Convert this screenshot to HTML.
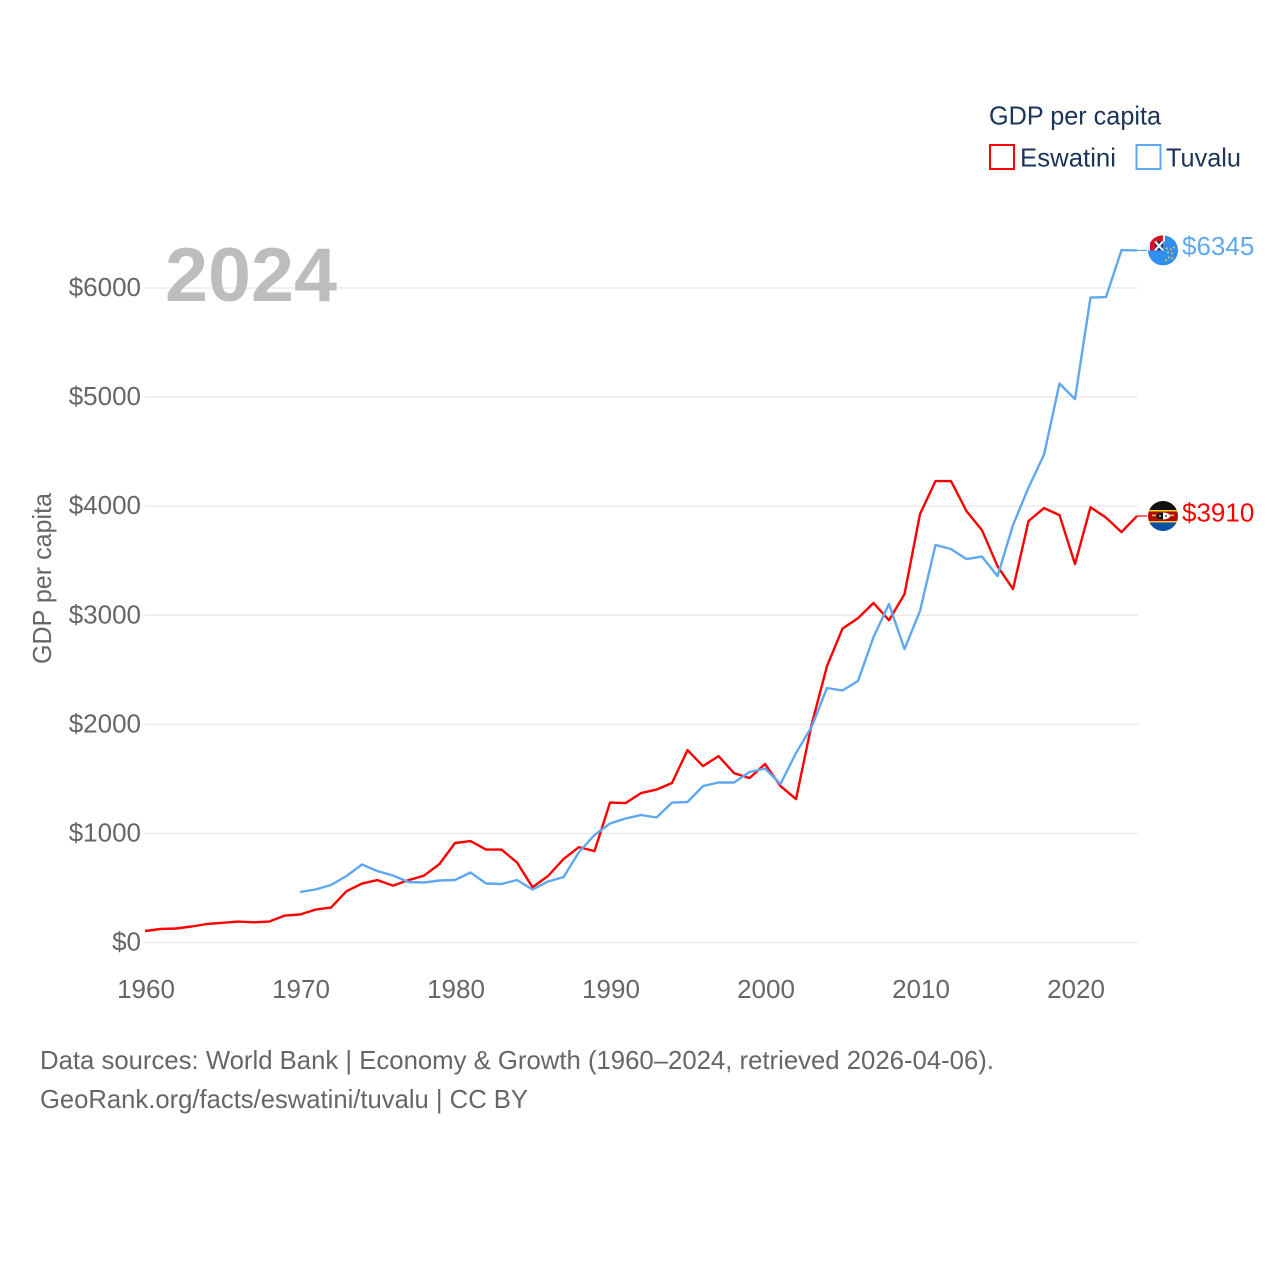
<!DOCTYPE html>
<html lang="en">
<head>
<meta charset="utf-8">
<title>GDP per capita: Eswatini and Tuvalu</title>
<style>
html,body{margin:0;padding:0;background:#fff}
svg{display:block}
text{font-family:"Liberation Sans",sans-serif}
</style>
</head>
<body>
<svg id="chart" width="1280" height="1280" viewBox="0 0 1280 1280" xmlns="http://www.w3.org/2000/svg">
  <defs>
    <clipPath id="flag-clip-a"><circle cx="0" cy="0" r="15"/></clipPath>
  </defs>
  <rect width="1280" height="1280" fill="#fff"/>
  <g id="grid"></g>
  <text x="165" y="301" font-size="76" font-weight="700" fill="#bdbdbd" textLength="172" lengthAdjust="spacingAndGlyphs">2024</text>
  <g id="yticks"></g>
  <g id="xticks"></g>
  <text transform="translate(51,578.5) rotate(-90)" text-anchor="middle" font-size="26" fill="#666" textLength="171" lengthAdjust="spacingAndGlyphs">GDP per capita</text>
  <g id="series"></g>

  <g>
    <text x="989" y="124.5" font-size="26" fill="#1a3557" textLength="172" lengthAdjust="spacingAndGlyphs">GDP per capita</text>
    <rect x="990" y="145" width="24" height="24" fill="none" stroke="#ff0000" stroke-width="2"/>
    <text x="1020" y="166.5" font-size="26" fill="#1a3557" textLength="96" lengthAdjust="spacingAndGlyphs">Eswatini</text>
    <rect x="1136.5" y="145" width="24" height="24" fill="none" stroke="#5fa8f0" stroke-width="2"/>
    <text x="1166" y="166.5" font-size="26" fill="#1a3557" textLength="75" lengthAdjust="spacingAndGlyphs">Tuvalu</text>
  </g>

  <g id="flag-tuvalu">
    <g clip-path="url(#flag-clip-a)">
      <rect x="-15" y="-15" width="30" height="30" fill="#2f8fee"/>
      <rect x="-13" y="-15" width="13" height="15" fill="#cf142b"/>
      <rect x="-8" y="-9" width="8" height="9" fill="#1f3a7a"/>
      <path d="M-8 -9 L0 0 M0 -9 L-8 0" stroke="#fff" stroke-width="2"/>
      <rect x="-15" y="-15" width="2" height="15" fill="#eee"/>
      <rect x="0" y="-15" width="2" height="6" fill="#eee"/>
      <g fill="#f2c230">
        <circle cx="4" cy="-2" r="1"/><circle cx="8" cy="-1" r="1"/><circle cx="11" cy="-3" r="1"/>
        <circle cx="5" cy="2" r="1"/><circle cx="9" cy="3" r="1"/><circle cx="6" cy="7" r="1"/>
        <circle cx="3" cy="10" r="1"/><circle cx="9" cy="8" r="1"/>
      </g>
    </g>
  </g>
  <g id="flag-eswatini">
    <g clip-path="url(#flag-clip-a)">
      <rect x="-15" y="-15" width="30" height="9" fill="#111"/>
      <rect x="-15" y="-6" width="30" height="1.5" fill="#f4d21f"/>
      <rect x="-15" y="-4.5" width="30" height="9.5" fill="#b10c0c"/>
      <rect x="-15" y="5" width="30" height="1.5" fill="#f4d21f"/>
      <rect x="-15" y="6.5" width="30" height="8.5" fill="#0a4fa8"/>
      <rect x="-11" y="-1.4" width="22" height="1.6" fill="#e8c13a"/>
      <ellipse cx="0" cy="0" rx="7" ry="3.5" fill="#fff"/>
      <path d="M0 -3.5 A7 3.5 0 0 0 0 3.5 Z" fill="#111"/>
      <circle cx="-3" cy="0" r="0.9" fill="#fff"/>
      <circle cx="3" cy="0" r="0.9" fill="#111"/>
    </g>
  </g>

  <text id="value-tuvalu" x="1182" font-size="26" fill="#5fa8f0"></text>
  <text id="value-eswatini" x="1182" font-size="26" fill="#ff0000"></text>

  <g>
    <text x="40" y="1069" font-size="26" fill="#666" textLength="954" lengthAdjust="spacingAndGlyphs">Data sources: World Bank | Economy &amp; Growth (1960–2024, retrieved 2026-04-06).</text>
    <text x="40" y="1108" font-size="26" fill="#666" textLength="488" lengthAdjust="spacingAndGlyphs">GeoRank.org/facts/eswatini/tuvalu | CC BY</text>
  </g>
</svg>

<script>
const eswatiniStartYear = 1960;
const tuvaluStartYear = 1970;
const eswatiniValues = [105,124,128,147,170,181,192,185,192,247,257,302,320,470,540,572,522,572,612,720,912,930,852,852,733,507,610,765,875,838,1283,1278,1370,1402,1462,1764,1617,1709,1553,1507,1636,1434,1315,1993,2534,2878,2974,3112,2955,3194,3927,4230,4230,3955,3780,3450,3240,3863,3982,3918,3469,3991,3895,3762,3910];
const tuvaluValues = [463,486,527,610,715,655,614,555,550,568,573,642,541,536,573,486,559,600,830,985,1091,1137,1169,1146,1283,1288,1434,1467,1467,1563,1595,1453,1737,1975,2333,2310,2397,2800,3103,2690,3039,3644,3607,3515,3538,3359,3827,4170,4473,5124,4982,5912,5917,6348,6345];
const yTickValues = [0,1000,2000,3000,4000,5000,6000];
const xTickYears = [1960,1970,1980,1990,2000,2010,2020];

const NS = 'http://www.w3.org/2000/svg';
const xScale = year => 145 + (year - 1960) * 15.5;
const yScale = value => 942.5 - value * 0.10908;

const gridGroup = document.getElementById('grid');
const yTickGroup = document.getElementById('yticks');
yTickValues.forEach(v => {
  const line = document.createElementNS(NS, 'line');
  
  
  line.setAttribute('x1', 145);
  line.setAttribute('x2', 1138);
  line.setAttribute('y1', yScale(v));
  line.setAttribute('y2', yScale(v));
  line.setAttribute('stroke', '#ebebeb');
  line.setAttribute('stroke-width', '1.5');
  gridGroup.appendChild(line);

  const label = document.createElementNS(NS, 'text');
  
  
  label.setAttribute('x', 141);
  label.setAttribute('y', yScale(v) + 8);
  label.setAttribute('text-anchor', 'end');
  label.setAttribute('font-size', '26');
  label.setAttribute('fill', '#666');
  label.textContent = '$' + v;
  yTickGroup.appendChild(label);
});

const xTickGroup = document.getElementById('xticks');
xTickYears.forEach(year => {
  const label = document.createElementNS(NS, 'text');
  
  
  label.setAttribute('x', xScale(year) + 1);
  label.setAttribute('y', 998);
  label.setAttribute('text-anchor', 'middle');
  label.setAttribute('font-size', '26');
  label.setAttribute('fill', '#666');
  label.textContent = year;
  xTickGroup.appendChild(label);
});

const seriesGroup = document.getElementById('series');
function drawSeries(values, startYear, color) {
  const pts = values.map((v, i) => xScale(startYear + i).toFixed(1) + ',' + yScale(v).toFixed(1));
  const line = document.createElementNS(NS, 'polyline');
  line.setAttribute('points', pts.join(' '));
  line.setAttribute('fill', 'none');
  line.setAttribute('stroke', color);
  line.setAttribute('stroke-width', '2.4');
  line.setAttribute('stroke-linejoin', 'round');
  seriesGroup.appendChild(line);
  return line;
}
const eswatiniLine = drawSeries(eswatiniValues, eswatiniStartYear, '#ff0000');


const tuvaluLine = drawSeries(tuvaluValues, tuvaluStartYear, '#5fa8f0');



function placeEnd(values, startYear, color, flagId, labelId, labelOffset) {
  const last = values[values.length - 1];
  const lastY = yScale(last);
  const conn = document.createElementNS(NS, 'line');
  
  
  conn.setAttribute('x1', xScale(startYear + values.length - 1));
  conn.setAttribute('x2', 1147);
  conn.setAttribute('y1', lastY);
  conn.setAttribute('y2', lastY);
  conn.setAttribute('stroke', color);
  conn.setAttribute('stroke-width', '1.2');
  seriesGroup.appendChild(conn);
  document.getElementById(flagId).setAttribute('transform', 'translate(1163,' + lastY + ')');
  const label = document.getElementById(labelId);
  label.setAttribute('y', lastY + labelOffset);
  label.textContent = '$' + last;
}
placeEnd(eswatiniValues, eswatiniStartYear, '#ff0000', 'flag-eswatini', 'value-eswatini', 5.5);
placeEnd(tuvaluValues, tuvaluStartYear, '#5fa8f0', 'flag-tuvalu', 'value-tuvalu', 4.5);
</script>
</body>
</html>
